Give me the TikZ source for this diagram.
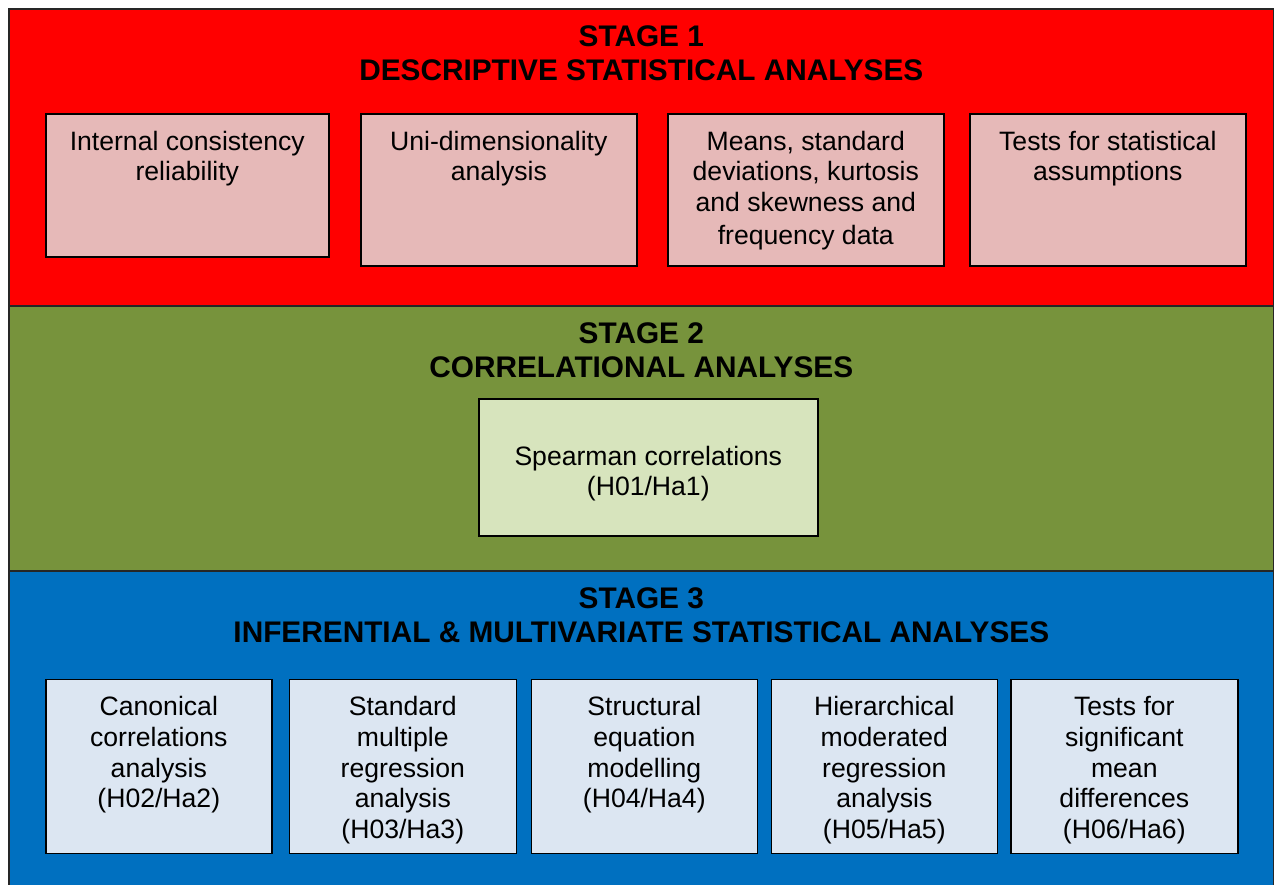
\documentclass[tikz,border=0pt]{standalone}
\usepackage{fontspec}
\setmainfont{Liberation Sans}
\usetikzlibrary{positioning}
\definecolor{stageone}{HTML}{FF0000}
\definecolor{stagetwo}{HTML}{77933C}
\definecolor{stagethree}{HTML}{0070C0}
\definecolor{boxone}{HTML}{E6B9B8}
\definecolor{boxtwo}{HTML}{D7E4BD}
\definecolor{boxthree}{HTML}{DCE6F2}
\newcommand{\boxtext}[4][36.5pt]{\parbox[c][#3][t]{#2}{\centering\rule{0pt}{#1}#4}}

\begin{document}
\begin{tikzpicture}[x=1pt,y=-1pt,
    stage/.style={draw=black!85, line width=1.6pt, anchor=north west, inner sep=0pt, minimum width=1265pt},
    stagetitle/.style={font=\fontsize{29.8}{34.5}\selectfont\bfseries, align=center, inner sep=0pt},
    itembox/.style={draw=black, line width=1.6pt, inner sep=0pt, anchor=north west, font=\fontsize{26.6}{30.6}\selectfont}]
  \useasboundingbox (0,0) rectangle (1274,884);
  \clip (0,0) rectangle (1274,884);

  \node[stage, fill=stageone, minimum height=297pt] (s1) at (8,8) {};
  \node[stage, fill=stagetwo, minimum height=265pt] (s2) at (8,305) {};
  \node[stage, fill=stagethree, minimum height=330pt] (s3) at (8,570) {};

  \node[stagetitle, below=17.2pt of s1.north] (t1) {STAGE 1\\DESCRIPTIVE STATISTICAL ANALYSES};
  \node[stagetitle, below=17.2pt of s2.north] (t2) {STAGE 2\\CORRELATIONAL ANALYSES};
  \node[stagetitle, below=17.2pt of s3.north] (t3) {STAGE 3\\INFERENTIAL \& MULTIVARIATE STATISTICAL ANALYSES};

  \node[itembox, fill=boxone] (d1) at (45,113) {\boxtext{283pt}{143pt}{Internal consistency\\reliability}};
  \node[itembox, fill=boxone] (d2) at (360,113) {\boxtext{276pt}{152pt}{Uni-dimensionality\\analysis}};
  \node[itembox, fill=boxone] (d3) at (667,113) {\boxtext{276pt}{152pt}{Means, standard\\deviations, kurtosis\\and skewness and\\[2pt]frequency data}};
  \node[itembox, fill=boxone] (d4) at (969,113) {\boxtext{276pt}{152pt}{Tests for statistical\\assumptions}};

  \node[itembox, fill=boxtwo] (c1) at (478,398) {\boxtext[66.5pt]{339pt}{137pt}{Spearman correlations\\(H01/Ha1)}};

  \node[itembox, fill=boxthree] (i1) at (45,678.5) {\boxtext{226pt}{174pt}{Canonical\\correlations\\analysis\\(H02/Ha2)}};
  \node[itembox, fill=boxthree] (i2) at (288.5,678.5) {\boxtext{227pt}{174pt}{Standard\\multiple\\regression\\analysis\\(H03/Ha3)}};
  \node[itembox, fill=boxthree] (i3) at (530.5,678.5) {\boxtext{226pt}{174pt}{Structural\\equation\\modelling\\(H04/Ha4)}};
  \node[itembox, fill=boxthree] (i4) at (770.5,678.5) {\boxtext{226pt}{174pt}{Hierarchical\\moderated\\regression\\analysis\\(H05/Ha5)}};
  \node[itembox, fill=boxthree] (i5) at (1010,678.5) {\boxtext{227pt}{174pt}{Tests for\\significant\\mean\\differences\\(H06/Ha6)}};
\end{tikzpicture}
\end{document}
